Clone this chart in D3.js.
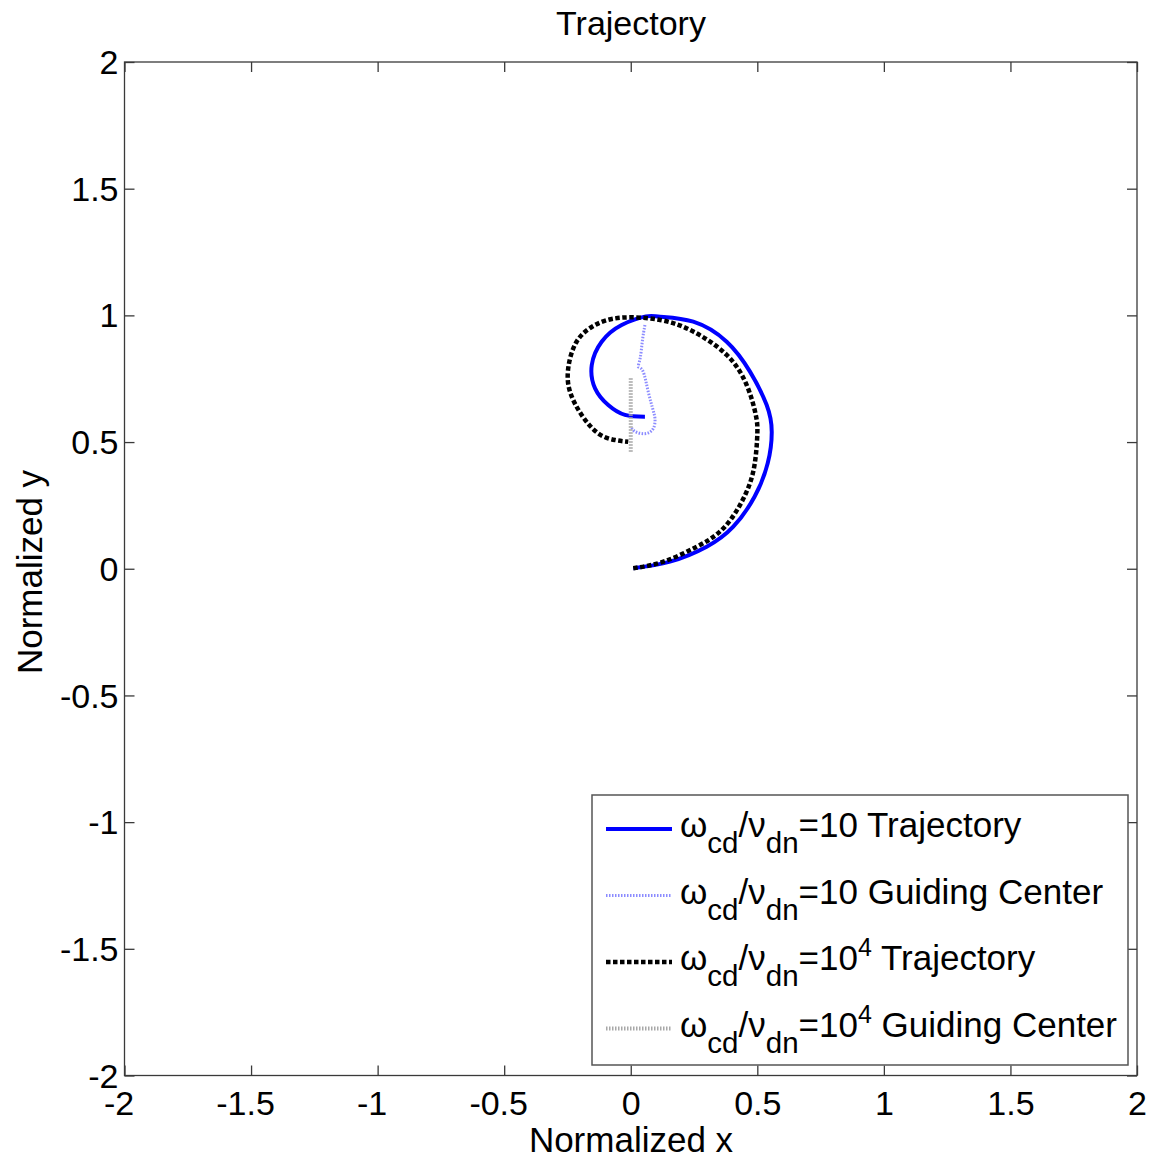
<!DOCTYPE html>
<html>
<head>
<meta charset="utf-8">
<script src="https://cdn.jsdelivr.net/npm/d3@7"></script>
<style>
  html, body { margin: 0; padding: 0; background: #fff; }
  svg { display: block; font-family: "Liberation Sans", Arial, Helvetica, sans-serif; }
</style>
</head>
<body>
<svg id="chart" width="1156" height="1161"></svg>
<script>
// ---------- data ----------
const xTicks = [-2, -1.5, -1, -0.5, 0, 0.5, 1, 1.5, 2];
const yTicks = [-2, -1.5, -1, -0.5, 0, 0.5, 1, 1.5, 2];

// omega_cd/nu_dn = 10 trajectory
const traj10 = [[0.010,0.002],[0.155,0.028],[0.300,0.087],[0.405,0.166],[0.489,0.284],[0.541,0.416],
  [0.557,0.540],[0.537,0.646],[0.471,0.778],[0.379,0.896],[0.247,0.975],[0.116,0.995],[0.060,0.996],
  [-0.036,0.962],[-0.115,0.896],[-0.154,0.804],[-0.141,0.712],[-0.089,0.646],[-0.023,0.607],[0.056,0.600]];
// omega_cd/nu_dn = 10 guiding center
const gc10 = [[0.056,0.962],[0.046,0.900],[0.037,0.830],[0.030,0.797],[0.048,0.780],[0.069,0.699],
  [0.090,0.620],[0.096,0.585],[0.090,0.555],[0.069,0.536],[0.040,0.534],[0.015,0.543],[0.004,0.556]];
// omega_cd/nu_dn = 1e4 trajectory
const traj1e4 = [[0.010,0.002],[0.129,0.028],[0.261,0.087],[0.372,0.166],[0.455,0.298],[0.490,0.416],
  [0.500,0.530],[0.494,0.607],[0.458,0.725],[0.379,0.844],[0.247,0.936],[0.116,0.982],[-0.036,0.991],
  [-0.141,0.962],[-0.214,0.896],[-0.247,0.791],[-0.240,0.699],[-0.194,0.607],[-0.128,0.534],
  [-0.062,0.508],[-0.010,0.501]];
// omega_cd/nu_dn = 1e4 guiding center
const gc1e4 = [[0.0,0.752],[0.0,0.462]];

const seriesNames = ["ω|cd|/ν|dn|=10| Trajectory", "ω|cd|/ν|dn|=10| Guiding Center",
                     "ω|cd|/ν|dn|=10|4| Trajectory", "ω|cd|/ν|dn|=10|4| Guiding Center"];

// ---------- layout ----------
const svg = d3.select("#chart");
const L = 124.5, R = 1137, T = 62, B = 1075.5;
const x = d3.scaleLinear().domain([-2, 2]).range([L, R]);
const y = d3.scaleLinear().domain([-2, 2]).range([B, T]);
const FS = 34;
const axisColor = "#3a3a3a";

svg.append("rect").attr("x", L).attr("y", T).attr("width", R - L).attr("height", B - T)
  .attr("fill", "#fff").attr("stroke", axisColor).attr("stroke-width", 1.3);

function fmt(d) { return String(d); }

const gB = svg.append("g").attr("transform", `translate(0,${B})`)
  .call(d3.axisBottom(x).tickValues(xTicks).tickSize(-10).tickPadding(15).tickFormat(fmt));
const gT = svg.append("g").attr("transform", `translate(0,${T})`)
  .call(d3.axisTop(x).tickValues(xTicks).tickSize(-10).tickFormat(""));
const gL = svg.append("g").attr("transform", `translate(${L},0)`)
  .call(d3.axisLeft(y).tickValues(yTicks).tickSize(-10).tickPadding(6).tickFormat(fmt));
const gR = svg.append("g").attr("transform", `translate(${R},0)`)
  .call(d3.axisRight(y).tickValues(yTicks).tickSize(-10).tickFormat(""));

[gB, gT, gL, gR].forEach(g => {
  g.select(".domain").remove();
  g.selectAll(".tick line").attr("stroke", axisColor).attr("stroke-width", 1.3);
  g.selectAll(".tick text").attr("fill", "#000").style("font-size", FS + "px")
    .style("font-family", "'Liberation Sans', Arial, sans-serif");
});
gB.selectAll(".tick text").attr("dx", d => d < 0 ? -6 : 0);
gL.selectAll(".tick text").attr("dy", "0.34em");

// title & axis labels
svg.append("text").attr("x", 631).attr("y", 35).attr("text-anchor", "middle")
  .style("font-size", FS + "px").text("Trajectory");
svg.append("text").attr("x", 631).attr("y", 1152).attr("text-anchor", "middle")
  .style("font-size", "35px").text("Normalized x");
svg.append("text").attr("transform", "translate(42,572) rotate(-90)").attr("text-anchor", "middle")
  .style("font-size", "35px").text("Normalized y");

// ---------- series ----------
const line = d3.line().x(d => x(d[0])).y(d => y(d[1])).curve(d3.curveNatural);
const styles = [
  { color: "#0000ff", width: 4, dash: null },
  { color: "#8c8cff", width: 3, dash: "1.5,1.5" },
  { color: "#000000", width: 4.5, dash: "4.5,2.5" },
  { color: "#a8a8a8", width: 4, dash: "1.5,1.5" }
];
const datasets = [traj10, gc10, traj1e4, gc1e4];
const plotOrder = [0, 1, 3, 2];
const gPlot = svg.append("g");
plotOrder.forEach(i => {
  gPlot.append("path").datum(datasets[i]).attr("d", line).attr("fill", "none")
    .attr("stroke", styles[i].color).attr("stroke-width", styles[i].width)
    .attr("stroke-dasharray", styles[i].dash);
});

// ---------- legend ----------
const lg = svg.append("g");
lg.append("rect").attr("x", 592).attr("y", 795).attr("width", 536).attr("height", 270)
  .attr("fill", "#fff").attr("stroke", "#555").attr("stroke-width", 1.5);
const LFS = 35, SFS = 29.5;
seriesNames.forEach((name, i) => {
  const by = 837 + i * 66.5;
  lg.append("line").attr("x1", 606).attr("x2", 672).attr("y1", by - 8).attr("y2", by - 8)
    .attr("stroke", styles[i].color).attr("stroke-width", styles[i].width)
    .attr("stroke-dasharray", styles[i].dash);
  const parts = name.split("|");
  const t = lg.append("text").attr("x", 680).attr("y", by).style("font-size", LFS + "px");
  t.append("tspan").text(parts[0]);                                   // ω
  t.append("tspan").attr("dy", 16).style("font-size", SFS + "px").text(parts[1]); // cd
  t.append("tspan").attr("dy", -16).text(parts[2]);                   // /ν
  t.append("tspan").attr("dy", 16).style("font-size", SFS + "px").text(parts[3]); // dn
  t.append("tspan").attr("dy", -16).text(parts[4]);                   // =10
  if (parts.length === 7) {
    t.append("tspan").attr("dy", -14).style("font-size", "25px").text(parts[5]);  // 4
    t.append("tspan").attr("dy", 14).text(parts[6]);
  } else {
    t.append("tspan").text(parts[5]);
  }
});
</script>
</body>
</html>
